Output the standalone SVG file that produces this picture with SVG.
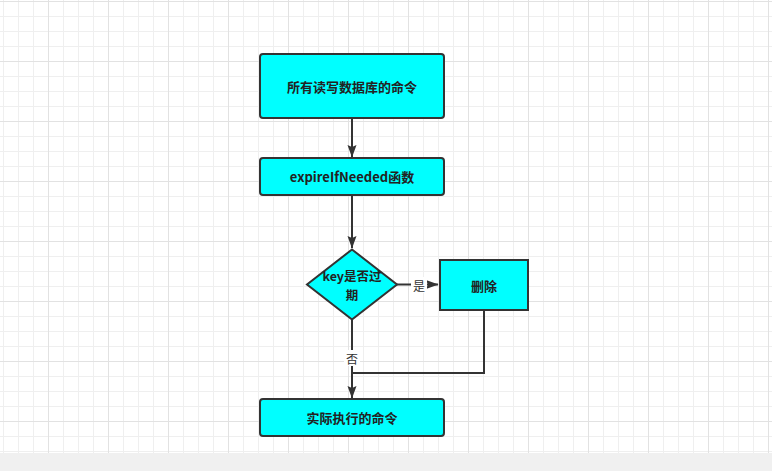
<svg xmlns="http://www.w3.org/2000/svg" width="772" height="471" viewBox="0 0 772 471">
<defs>
<pattern id="grid" width="60" height="60" x="-12" y="1" patternUnits="userSpaceOnUse">
<rect x="15" y="0" width="1" height="60" fill="#efefef"/>
<rect x="30" y="0" width="1" height="60" fill="#efefef"/>
<rect x="45" y="0" width="1" height="60" fill="#efefef"/>
<rect x="0" y="15" width="60" height="1" fill="#efefef"/>
<rect x="0" y="30" width="60" height="1" fill="#efefef"/>
<rect x="0" y="45" width="60" height="1" fill="#efefef"/>
<rect x="0" y="0" width="1" height="60" fill="#e2e2e2"/>
<rect x="0" y="0" width="60" height="1" fill="#e2e2e2"/>
</pattern>
<marker id="arr" markerWidth="13" markerHeight="10" refX="12" refY="5" orient="auto" markerUnits="userSpaceOnUse" viewBox="0 0 13 10">
<path d="M0,0.5 L12.5,5 L0,9.5 L2,5 Z" fill="#333"/>
</marker>
<style>
.box{fill:#00ffff;stroke:#333;stroke-width:2}
.t{font-family:"Noto Sans CJK SC","Liberation Sans",sans-serif;font-size:13px;fill:#222;text-anchor:middle;dominant-baseline:central}
.d{font-size:12.5px}
.b{font-weight:bold}
.edge{fill:none;stroke:#333;stroke-width:2}
.lbl{font-family:"Noto Sans CJK SC","Liberation Sans",sans-serif;font-size:12px;fill:#333;text-anchor:middle;dominant-baseline:central}
</style>
</defs>
<rect x="0" y="0" width="772" height="453" fill="#ffffff"/>
<rect x="0" y="0" width="772" height="453" fill="url(#grid)"/>
<rect x="0" y="453" width="772" height="18" fill="#f0f0f0"/>

<g id="connectors">
<path class="edge" d="M352,118 V157" marker-end="url(#arr)"/>
<path class="edge" d="M352,195 V248" marker-end="url(#arr)"/>
<path class="edge" d="M397,284.5 H438" marker-end="url(#arr)"/>
<path class="edge" d="M352,319 V398" marker-end="url(#arr)"/>
<path class="edge" d="M484,310 V373 H352"/>
<rect x="411" y="277" width="16" height="16" fill="#ffffff"/>
<text class="lbl" x="419" y="285">是</text>
<rect x="344" y="350" width="16" height="16" fill="#ffffff"/>
<text class="lbl" x="352" y="358">否</text>
</g>

<g id="node-all-commands">
<rect class="box" x="260" y="54" width="184" height="64" rx="3"/>
<text class="t b" x="352" y="86">所有读写数据库的命令</text>
</g>
<g id="node-expire">
<rect class="box" x="260" y="158" width="184" height="37" rx="3"/>
<text class="t b" x="352" y="176.5">expireIfNeeded函数</text>
</g>
<g id="node-decision">
<polygon class="box" points="352,249.5 397,284.5 352,319.5 307,284.5"/>
<text class="t b d" x="352" y="275.5">key是否过</text>
<text class="t b d" x="352" y="294">期</text>
</g>
<g id="node-delete">
<rect class="box" x="440" y="260" width="88" height="50"/>
<text class="t b" x="484" y="285">删除</text>
</g>
<g id="node-execute">
<rect class="box" x="260" y="399" width="184" height="37" rx="3"/>
<text class="t b" x="352" y="417.5">实际执行的命令</text>
</g>
</svg>
